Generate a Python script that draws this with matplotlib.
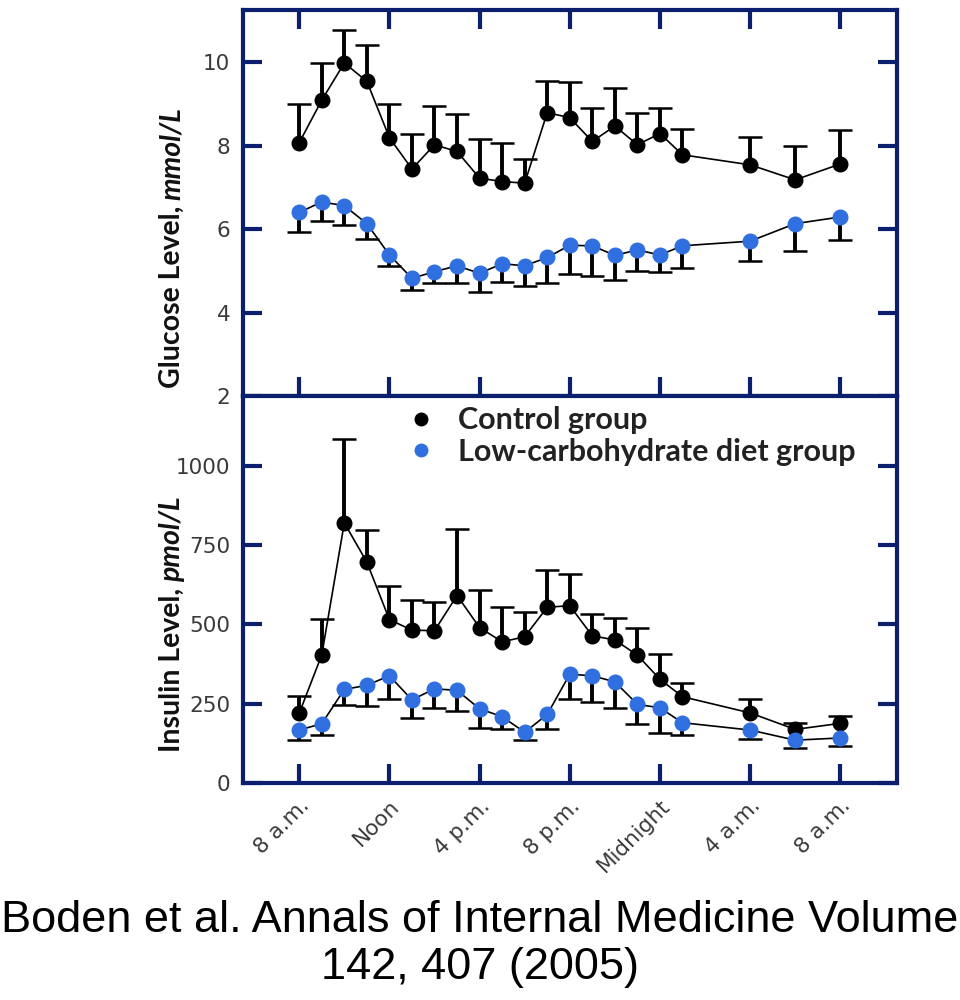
import numpy as np
import matplotlib
matplotlib.use('Agg')
import matplotlib.pyplot as plt
from matplotlib.lines import Line2D

# horas desde las 8 a.m.
horas = [0, 1, 2, 3, 4, 5, 6, 7, 8, 9, 10, 11, 12, 13, 14, 15, 16, 17, 20, 22, 24]
posiciones_x = [0, 4, 8, 12, 16, 20, 24]
etiquetas_x = ['8 a.m.', 'Noon', '4 p.m.', '8 p.m.', 'Midnight', '4 a.m.', '8 a.m.']

# glucosa (mmol/L)
glucosa_control = [8.07, 9.09, 9.98, 9.54, 8.19, 7.44, 8.02, 7.86, 7.22, 7.14, 7.10,
                   8.79, 8.67, 8.10, 8.47, 8.02, 8.29, 7.78, 7.54, 7.18, 7.56]
glucosa_control_err = [0.92, 0.89, 0.79, 0.87, 0.80, 0.85, 0.92, 0.89, 0.93, 0.92, 0.57,
                       0.77, 0.85, 0.80, 0.90, 0.77, 0.62, 0.61, 0.66, 0.80, 0.81]
glucosa_baja = [6.40, 6.65, 6.56, 6.13, 5.38, 4.82, 4.98, 5.12, 4.94, 5.17, 5.12,
                5.32, 5.61, 5.60, 5.37, 5.50, 5.38, 5.60, 5.71, 6.13, 6.29]
glucosa_baja_err = [0.47, 0.46, 0.47, 0.36, 0.26, 0.28, 0.27, 0.41, 0.44, 0.43, 0.48,
                    0.61, 0.69, 0.72, 0.58, 0.50, 0.42, 0.54, 0.47, 0.65, 0.55]

# insulina (pmol/L)
insulina_control = [220, 404, 820, 696, 515, 482, 480, 591, 490, 445, 461,
                    554, 559, 464, 451, 403, 327, 272, 221, 169, 188]
insulina_control_err = [54, 113, 266, 100, 105, 96, 92, 211, 120, 109, 79,
                        118, 100, 69, 69, 87, 79, 42, 43, 21, 23]
insulina_baja = [167, 187, 295, 308, 338, 262, 297, 292, 234, 209, 160,
                 216, 343, 338, 319, 248, 237, 190, 167, 135, 142]
insulina_baja_err = [30, 37, 50, 65, 72, 56, 60, 65, 60, 40, 23,
                     45, 77, 83, 82, 61, 79, 40, 28, 24, 24]

MARCO = '#0c1e6e'
AZUL = '#2f6fdf'
GRIS = '#3a3a3a'

fig = plt.figure(figsize=(9.6, 10), dpi=100)
ax1 = fig.add_axes([0.253, 0.604, 0.681, 0.386])
ax2 = fig.add_axes([0.253, 0.217, 0.681, 0.387])


def barras(ax, valores, extremos, z):
    # barra de error de un solo lado: tallo grueso + tapa fina
    ax.vlines(horas, valores, extremos, color='black', lw=2.8, zorder=z)
    ax.plot(horas, extremos, ls='none', marker='_', ms=17, mew=1.8,
            color='black', zorder=z)


def dibujar(ax, control, err_c, baja, err_b):
    control = np.array(control)
    baja = np.array(baja)
    barras(ax, control, control + np.array(err_c), 1.5)
    ax.plot(horas, control, '-o', color='black', ms=10.5, lw=1.2, zorder=2)
    barras(ax, baja, baja - np.array(err_b), 2.5)
    ax.plot(horas, baja, '-o', color='black', mfc=AZUL, mec=AZUL, ms=10.5,
            lw=1.2, zorder=3)


def estilo(ax):
    for s in ax.spines.values():
        s.set_color(MARCO)
        s.set_linewidth(3)
    ax.set_xlim(-2.5, 26.5)
    ax.set_xticks(posiciones_x)
    ax.tick_params(direction='in', length=14, width=3, color=MARCO,
                   labelsize=15.5, labelcolor=GRIS, pad=9)


dibujar(ax1, glucosa_control, glucosa_control_err, glucosa_baja, glucosa_baja_err)
estilo(ax1)
ax1.set_ylim(2, 11.25)
ax1.set_yticks([2, 4, 6, 8, 10])
ax1.tick_params(axis='x', top=True, bottom=True, labelbottom=False)
ax1.tick_params(axis='y', left=True, right=True)

dibujar(ax2, insulina_control, insulina_control_err, insulina_baja, insulina_baja_err)
estilo(ax2)
ax2.set_ylim(0, 1220)
ax2.set_yticks([0, 250, 500, 750, 1000])
ax2.tick_params(axis='y', left=True, right=True)
ax2.tick_params(axis='x', top=False, bottom=True)
ax2.set_xticklabels(etiquetas_x, rotation=45, ha='right', va='top', rotation_mode='anchor')

# leyenda
marcas = [Line2D([], [], marker='o', ls='none', color='black', ms=9),
          Line2D([], [], marker='o', ls='none', mfc=AZUL, mec=AZUL, ms=9)]
ley = ax2.legend(marcas, ['Control group', 'Low-carbohydrate diet group'],
                 loc='upper left', bbox_to_anchor=(0.24, 1.005), frameon=False,
                 handlelength=0.6, handletextpad=0.9, labelspacing=0.12,
                 borderaxespad=0, prop=dict(family='Lato', weight='bold', size=22))
for t in ley.get_texts():
    t.set_color('#222222')


# etiquetas de eje con parte en cursiva
def etiqueta_y(x, y0, normal, cursiva):
    kw = dict(rotation=90, rotation_mode='anchor', ha='left', va='baseline',
              fontsize=20.5, fontweight='bold', family='Lato', color='#111111')
    t1 = fig.text(x, y0, normal, **kw)
    t2 = fig.text(x, y0, cursiva, style='italic', **kw)
    fig.canvas.draw()
    r = fig.canvas.get_renderer()
    h1 = t1.get_window_extent(r).height / fig.bbox.height
    t2.set_y(y0 + h1 + 0.006)


etiqueta_y(0.187, 0.612, 'Glucose Level,', 'mmol/L')
etiqueta_y(0.187, 0.248, 'Insulin Level,', 'pmol/L')

fig.text(0.5, 0.056, 'Boden et al. Annals of Internal Medicine Volume\n142, 407 (2005)',
         ha='center', va='center', fontsize=32.5, family='Liberation Sans',
         linespacing=1.16, color='black')

fig.savefig('out.png', dpi=100)
